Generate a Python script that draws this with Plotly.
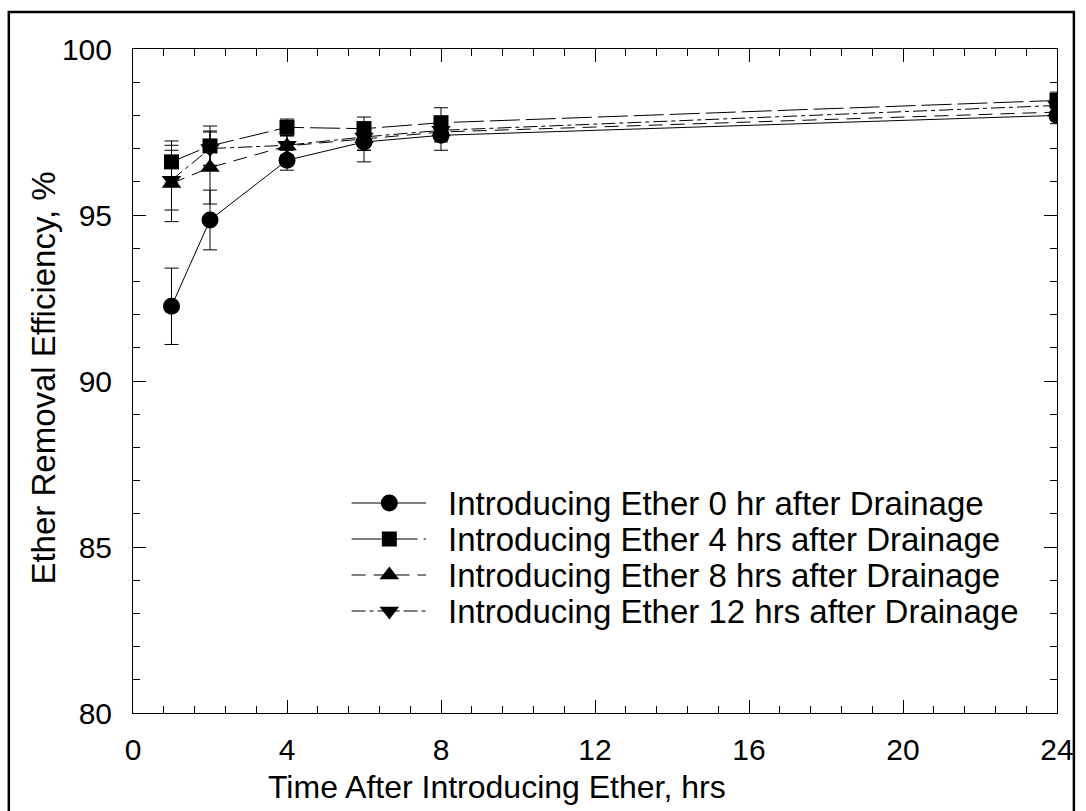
import plotly.graph_objects as go

# Sampling times (hours after ether was introduced)
hours = [1, 2, 4, 6, 8, 24]

# Removal efficiency (%) and standard deviations for each delay after drainage
eff_0hr = [92.25, 94.85, 96.65, 97.2, 97.4, 98.0]
err_0hr = [1.15, 0.9, 0.3, 0.6, 0.45, 0.25]

eff_4hr = [96.6, 97.08, 97.64, 97.6, 97.78, 98.45]
err_4hr = [0.63, 0.6, 0.25, 0.35, 0.45, 0.25]

eff_8hr = [95.95, 96.43, 97.08, 97.3, 97.5, 98.1]
err_8hr = [1.15, 1.1, 0.3, 0.35, 0.3, 0.25]

eff_12hr = [96.05, 97.0, 97.1, 97.35, 97.55, 98.3]
err_12hr = [0.9, 0.5, 0.3, 0.4, 0.3, 0.25]

series_names = [
    "Introducing Ether 0 hr after Drainage",
    "Introducing Ether 4 hrs after Drainage",
    "Introducing Ether 8 hrs after Drainage",
    "Introducing Ether 12 hrs after Drainage",
]

FONT = "Liberation Sans, Arial, sans-serif"
W, H = 1086, 811
L, R, T, B = 133, 23, 49, 98

styles = [
    dict(symbol="circle", size=17, dash="solid"),
    dict(symbol="square", size=15, dash="30px,6px"),
    dict(symbol="triangle-up", size=17, dash="14px,8px"),
    dict(symbol="triangle-down", size=17, dash="14px,4px,4px,4px"),
]
values = [eff_0hr, eff_4hr, eff_8hr, eff_12hr]
errors = [err_0hr, err_4hr, err_8hr, err_12hr]

fig = go.Figure()

for name, ys, es, st in zip(series_names, values, errors, styles):
    fig.add_trace(go.Scatter(
        x=hours, y=ys, name=name, mode="lines+markers",
        line=dict(color="black", width=1, dash=st["dash"]),
        marker=dict(symbol=st["symbol"], size=st["size"], color="black",
                    line=dict(width=0)),
        error_y=dict(type="data", array=es, visible=True, color="black",
                     thickness=1, width=7),
        showlegend=False,
    ))

# Hand-drawn key on an overlay axis spanning the plot area (0..1)
def fx(px):
    return (px - L) / (W - L - R)

def fy(py):
    return (H - B - py) / (H - T - B)

key_rows = [503, 539, 575, 611]
key_x0, key_x1, key_xm, key_text = fx(353), fx(428), fx(391), fx(448)
for name, st, row in zip(series_names, styles, key_rows):
    yk = fy(row)
    fig.add_trace(go.Scatter(
        x=[key_x0, key_x1], y=[yk, yk], mode="lines",
        line=dict(color="black", width=1, dash=st["dash"]),
        xaxis="x2", yaxis="y2", showlegend=False, hoverinfo="skip",
    ))
    fig.add_trace(go.Scatter(
        x=[key_xm], y=[yk], mode="markers",
        marker=dict(symbol=st["symbol"], size=st["size"], color="black",
                    line=dict(width=0)),
        xaxis="x2", yaxis="y2", showlegend=False, hoverinfo="skip",
    ))
    fig.add_annotation(
        x=key_text, y=yk, xref="paper", yref="paper", text=name,
        showarrow=False, xanchor="left", yanchor="middle",
        font=dict(family=FONT, size=33, color="black"),
    )

# Axis titles
fig.add_annotation(
    x=fx(499), y=fy(787), xref="paper", yref="paper",
    text="Time After Introducing Ether, hrs", showarrow=False,
    xanchor="center", yanchor="middle",
    font=dict(family=FONT, size=32, color="black"),
)
fig.add_annotation(
    x=fx(42), y=fy(378), xref="paper", yref="paper",
    text="Ether Removal Efficiency, %", showarrow=False, textangle=-90,
    xanchor="center", yanchor="middle",
    font=dict(family=FONT, size=33, color="black"),
)

axis_common = dict(
    showline=True, linecolor="black", linewidth=1, mirror="ticks",
    ticks="inside", ticklen=13, tickwidth=1, tickcolor="black",
    showgrid=False, zeroline=False,
    tickfont=dict(family=FONT, size=30, color="black"),
)

fig.update_layout(
    width=W, height=H,
    margin=dict(l=L, r=R, t=T, b=B),
    paper_bgcolor="white", plot_bgcolor="white",
    font=dict(family=FONT, color="black"),
    xaxis=dict(
        range=[0, 24], tickmode="linear", tick0=0, dtick=4,
        minor=dict(dtick=0.8, ticks="inside", ticklen=7, tickcolor="black",
                   tickwidth=1, showgrid=False),
        ticklabelstandoff=10,
        **axis_common,
    ),
    yaxis=dict(
        range=[80, 100], tickmode="linear", tick0=80, dtick=5,
        minor=dict(dtick=1, ticks="inside", ticklen=7, tickcolor="black",
                   tickwidth=1, showgrid=False),
        ticklabelstandoff=14,
        **axis_common,
    ),
    xaxis2=dict(overlaying="x", range=[0, 1], visible=False),
    yaxis2=dict(overlaying="y", range=[0, 1], visible=False),
)

# Outer frame around the whole figure
fig.add_shape(
    type="rect", xref="paper", yref="paper",
    x0=fx(8), x1=fx(1080), y0=fy(830), y1=fy(12),
    line=dict(color="black", width=2.5), fillcolor="rgba(0,0,0,0)",
    layer="above",
)

fig.write_html("out.html")
